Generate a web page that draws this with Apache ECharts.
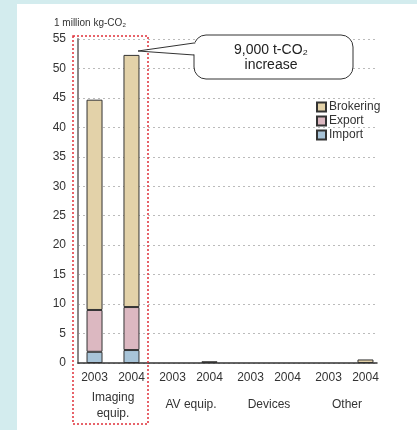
<!DOCTYPE html>
<html>
<head>
<meta charset="utf-8">
<script src="https://cdn.jsdelivr.net/npm/echarts@6/dist/echarts.min.js"></script>
<style>
  body { margin: 0; background: #d3ecee; }
  #panel { position: absolute; left: 17px; top: 4px; right: 0; bottom: 0; background: #fff; }
  #main { position: absolute; left: 0; top: 0; width: 417px; height: 430px; }
</style>
</head>
<body>
<div id="panel"></div>
<div id="main"></div>
<script>
// groups and years on the x axis
var groups = ['Imaging\nequip.', 'AV equip.', 'Devices', 'Other'];
var years = ['2003', '2004'];
var yTicks = { min: 0, max: 55, interval: 5 };

// million kg-CO2, one value per group
var import2003 = [1.9, 0, 0, 0];
var export2003 = [7.1, 0, 0, 0];
var brokering2003 = [35.7, 0, 0, 0];
var import2004 = [2.2, 0, 0, 0];
var export2004 = [7.3, 0, 0, 0];
var brokering2004 = [42.8, 0.3, 0, 0.6];

var colors = { Import: '#a8c4d8', Export: '#dcb8c1', Brokering: '#e3d2a9' };

var myChart = echarts.init(document.getElementById('main'));

function bar(name, stack, data) {
    return {
        name: name,
        type: 'bar',
        stack: stack,
        xAxisIndex: 1,
        yAxisIndex: 1,
        barWidth: 16,
        barGap: '131%',
        // empty bars are not drawn in the original
        data: data.map(function (v) { return v === 0 ? '-' : v; }),
        itemStyle: { color: colors[name], borderColor: '#333', borderWidth: 1 }
    };
}

myChart.setOption({
    animation: false,
    textStyle: { fontFamily: 'Liberation Sans, Arial, sans-serif' },
    legend: {
        orient: 'vertical',
        left: 316,
        top: 101,
        padding: 0,
        itemWidth: 9,
        itemHeight: 9,
        itemGap: 2,
        icon: 'rect',
        textStyle: { fontSize: 12, color: '#333', padding: [0, 0, 0, -2] },
        data: ['Brokering', 'Export', 'Import']
    },
    grid: [
        { left: 78, right: 40, top: 39, bottom: 67 },
        { left: 74, width: 312, top: 39, bottom: 67 }
    ],
    xAxis: [
        {
            type: 'category',
            gridIndex: 0,
            data: groups,
            axisLine: { lineStyle: { color: '#333', width: 1.5 } },
            axisTick: { show: false },
            axisLabel: { show: false }
        },
        {
            type: 'category',
            gridIndex: 1,
            data: groups,
            axisLine: { show: false },
            axisTick: { show: false },
            axisLabel: {
                margin: 7,
                color: '#333',
                interval: 0,
                formatter: function (v) {
                    var yr = '{y|' + years[0] + '}{y|' + years[1] + '}\n{sp| }\n';
                    var parts = v.split('\n');
                    if (parts.length > 1) return yr + parts.map(function (p) { return '{g|' + p + '}'; }).join('\n');
                    return yr + '{g1|' + v + '}';
                },
                rich: {
                    y: { fontSize: 12, width: 37, align: 'center', lineHeight: 16, color: '#333' },
                    sp: { fontSize: 1, lineHeight: 4 },
                    g: { fontSize: 12, lineHeight: 16, align: 'center', color: '#333' },
                    g1: { fontSize: 12, lineHeight: 30, align: 'center', color: '#333' }
                }
            }
        }
    ],
    yAxis: [
        {
            type: 'value',
            gridIndex: 0,
            min: yTicks.min,
            max: yTicks.max,
            interval: yTicks.interval,
            axisLine: { show: true, lineStyle: { color: '#888', width: 2 } },
            axisTick: { show: false },
            axisLabel: { fontSize: 12, color: '#333', margin: 12 },
            splitLine: { lineStyle: { color: '#bbb', type: [2, 3] } }
        },
        {
            type: 'value',
            gridIndex: 1,
            min: yTicks.min,
            max: yTicks.max,
            interval: yTicks.interval,
            show: false
        }
    ],
    series: [
        bar('Import', 'y2003', import2003),
        bar('Export', 'y2003', export2003),
        bar('Brokering', 'y2003', brokering2003),
        bar('Import', 'y2004', import2004),
        bar('Export', 'y2004', export2004),
        bar('Brokering', 'y2004', brokering2004)
    ],
    graphic: [
        {
            type: 'text', left: 54, top: 18,
            style: { text: '1 million kg-CO₂', fontSize: 10, fill: '#333', font: '10px Liberation Sans, Arial, sans-serif' }
        },
        {
            type: 'rect', shape: { x: 73, y: 36, width: 75, height: 388 },
            style: { fill: 'none', stroke: '#e0303a', lineWidth: 1.5, lineDash: [2, 2] },
            z: 10
        },
        {
            type: 'rect', shape: { x: 194, y: 35, width: 159, height: 44, r: 12 },
            style: { fill: '#fff', stroke: '#333', lineWidth: 1 },
            z: 20
        },
        {
            type: 'polygon', shape: { points: [[139, 51], [195.5, 43.5], [195.5, 54.5]] },
            style: { fill: '#fff' },
            z: 21
        },
        {
            type: 'polyline', shape: { points: [[194, 43], [138, 51], [194, 55]] },
            style: { stroke: '#333', lineWidth: 1, fill: null },
            z: 22
        },
        {
            type: 'text', x: 271, y: 58,
            style: {
                text: '9,000 t-CO₂\nincrease', fontSize: 14, fill: '#222', align: 'center', verticalAlign: 'middle',
                lineHeight: 15, font: '14px Liberation Sans, Arial, sans-serif'
            },
            z: 22
        }
    ]
});
</script>
</body>
</html>
